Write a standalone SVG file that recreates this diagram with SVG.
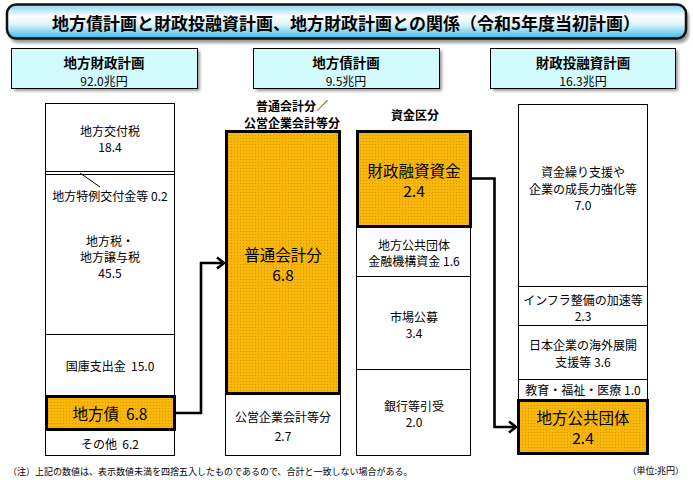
<svg xmlns="http://www.w3.org/2000/svg" width="693" height="480" viewBox="0 0 693 480">
<defs>
<style>
text{font-family:"Noto Sans CJK JP","Liberation Sans",sans-serif;fill:#000;text-anchor:middle;dominant-baseline:central}
.t12{font-size:12px}
.t16{font-size:15.5px}
.hb{font-size:13.5px;font-weight:bold}
.sb{font-size:12px;font-weight:bold}
.box{fill:#fff;stroke:#000;stroke-width:1}
.sep{stroke:#000;stroke-width:1;fill:none}
.yel{fill:url(#dots);stroke:#000;stroke-width:3}
.hdr{fill:#d2fbfd;stroke:#000;stroke-width:1}
.shd{fill:#9a9a9a;filter:url(#blur)}
.con{fill:none;stroke:#000;stroke-width:2.6;stroke-linejoin:miter}
</style>
<pattern id="dots" width="3" height="3" patternUnits="userSpaceOnUse">
<rect width="3" height="3" fill="#f8b70a"/>
<rect x="0" y="0" width="1" height="1" fill="#d99a00"/>
</pattern>
<linearGradient id="tg" x1="0" y1="0" x2="0" y2="1">
<stop offset="0" stop-color="#7fd3f0"/>
<stop offset="0.35" stop-color="#ffffff"/>
<stop offset="0.6" stop-color="#d8f3fb"/>
<stop offset="1" stop-color="#3bb8e6"/>
</linearGradient>
<filter id="blur" x="-10%" y="-30%" width="120%" height="160%"><feGaussianBlur stdDeviation="1.5"/></filter>
<marker id="arr" markerWidth="14" markerHeight="14" refX="10" refY="7" orient="auto" markerUnits="userSpaceOnUse">
<path d="M3,1.5 L10,7 L3,12.5" fill="none" stroke="#000" stroke-width="2.6"/>
</marker>
</defs>
<rect width="693" height="480" fill="#fff"/>

<g id="title">
<rect class="shd" x="9" y="8" width="680" height="35" rx="9"/>
<rect x="7" y="4.5" width="679" height="34" rx="9" fill="url(#tg)" stroke="#111" stroke-width="2.5"/>
<text x="346" y="22" style="font-size:17px;font-weight:bold">地方債計画と財政投融資計画、地方財政計画との関係（令和5年度当初計画）</text>
</g>

<g id="hdr-chiho-zaisei">
<rect class="shd" x="14" y="51" width="186" height="40"/>
<rect class="hdr" x="11.5" y="48.5" width="186" height="40"/>
<text class="hb" x="104" y="62">地方財政計画</text>
<text class="t12" x="104" y="80">92.0兆円</text>
</g>
<g id="hdr-chihosai">
<rect class="shd" x="256" y="51" width="186" height="40"/>
<rect class="hdr" x="253.5" y="48.5" width="186" height="40"/>
<text class="hb" x="346" y="62">地方債計画</text>
<text class="t12" x="346" y="80">9.5兆円</text>
</g>
<g id="hdr-zaito">
<rect class="shd" x="493" y="51" width="185" height="40"/>
<rect class="hdr" x="490.5" y="48.5" width="185" height="40"/>
<text class="hb" x="583" y="62">財政投融資計画</text>
<text class="t12" x="583" y="80">16.3兆円</text>
</g>

<g id="col-chiho-zaisei">
<rect class="box" x="45.5" y="103.5" width="129" height="352"/>
<line class="sep" x1="45.5" y1="171.5" x2="174.5" y2="171.5"/>
<line class="sep" x1="45.5" y1="174.5" x2="174.5" y2="174.5"/>
<line class="sep" x1="45.5" y1="334.5" x2="174.5" y2="334.5"/>
<line class="sep" x1="80" y1="173" x2="100" y2="187"/>
<text class="t12" x="110" y="130">地方交付税</text>
<text class="t12" x="110" y="146">18.4</text>
<text class="t12" x="110" y="195">地方特例交付金等 0.2</text>
<text class="t12" x="110" y="240">地方税・</text>
<text class="t12" x="110" y="256">地方譲与税</text>
<text class="t12" x="110" y="272">45.5</text>
<text class="t12" x="110" y="365">国庫支出金&#160;&#160;15.0</text>
<text class="t12" x="110" y="443">その他&#160;&#160;6.2</text>
</g>
<g id="node-chihosai">
<rect class="yel" x="46.5" y="396.5" width="128" height="33"/>
<text class="t16" x="110" y="413">地方債&#160;&#160;6.8</text>
</g>

<g id="col-kaikei">
<text class="sb" x="292" y="105">普通会計分／</text>
<text class="sb" x="292" y="122">公営企業会計等分</text>
<rect class="box" x="225.5" y="394.5" width="115" height="61"/>
<text class="t12" x="283" y="416">公営企業会計等分</text>
<text class="t12" x="283" y="435">2.7</text>
</g>
<g id="node-futsu">
<rect class="yel" x="226.5" y="131.5" width="113" height="262"/>
<text class="t16" x="283" y="254">普通会計分</text>
<text class="t16" x="283" y="274">6.8</text>
</g>

<g id="col-shikin">
<text class="sb" x="415" y="114">資金区分</text>
<rect class="box" x="356.5" y="226.5" width="114" height="229"/>
<line class="sep" x1="356.5" y1="276.5" x2="470.5" y2="276.5"/>
<line class="sep" x1="356.5" y1="369.5" x2="470.5" y2="369.5"/>
<text class="t12" x="414" y="244">地方公共団体</text>
<text class="t12" x="414" y="260">金融機構資金 1.6</text>
<text class="t12" x="414" y="316">市場公募</text>
<text class="t12" x="414" y="332">3.4</text>
<text class="t12" x="414" y="405">銀行等引受</text>
<text class="t12" x="414" y="421">2.0</text>
</g>
<g id="node-zaiyu">
<rect class="yel" x="357.5" y="131.5" width="113" height="95"/>
<text class="t16" x="414" y="170">財政融資資金</text>
<text class="t16" x="414" y="190">2.4</text>
</g>

<g id="col-zaito">
<rect class="box" x="518.5" y="104.5" width="129" height="295"/>
<line class="sep" x1="518.5" y1="286.5" x2="647.5" y2="286.5"/>
<line class="sep" x1="518.5" y1="325.5" x2="647.5" y2="325.5"/>
<line class="sep" x1="518.5" y1="379.5" x2="647.5" y2="379.5"/>
<text class="t12" x="583" y="171">資金繰り支援や</text>
<text class="t12" x="583" y="188">企業の成長力強化等</text>
<text class="t12" x="583" y="204">7.0</text>
<text class="t12" x="583" y="299">インフラ整備の加速等</text>
<text class="t12" x="583" y="315">2.3</text>
<text class="t12" x="583" y="344">日本企業の海外展開</text>
<text class="t12" x="583" y="361">支援等 3.6</text>
<text class="t12" x="583" y="389">教育・福祉・医療 1.0</text>
</g>
<g id="node-chiho-dantai">
<rect class="yel" x="518.5" y="400.5" width="129" height="53"/>
<text class="t16" x="583" y="417">地方公共団体</text>
<text class="t16" x="583" y="437">2.4</text>
</g>

<g id="connectors">
<path class="con" d="M175,413 H201 V263 H224" marker-end="url(#arr)"/>
<path class="con" d="M471,178.5 H494.5 V427 H516" marker-end="url(#arr)"/>
</g>

<g id="notes">
<text x="8" y="471" style="font-size:9px;text-anchor:start">（注）上記の数値は、表示数値未満を四捨五入したものであるので、合計と一致しない場合がある。</text>
<text x="684" y="470" style="font-size:9px;text-anchor:end">（単位:兆円）</text>
</g>
</svg>
